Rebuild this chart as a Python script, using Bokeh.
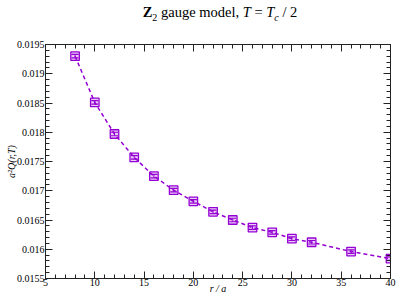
from bokeh.plotting import figure
from bokeh.layouts import column
from bokeh.models import (Range1d, LinearAxis, SingleIntervalTicker, CustomJSTickFormatter,
                          ColumnDataSource, Whisker, TeeHead, Div)
from bokeh.embed import file_html
from bokeh.resources import INLINE

# ---- data ----
r_over_a = [8, 10, 12, 14, 16, 18, 20, 22, 24, 26, 28, 30, 32, 36, 40]
q_values = [0.01930, 0.01851, 0.01797, 0.01757, 0.01725, 0.01701, 0.01682,
            0.01664, 0.01650, 0.01637, 0.01629, 0.01618, 0.01612, 0.01596, 0.01584]
q_errors = [0.00003, 0.00003, 0.00003, 0.00003, 0.00003, 0.00003, 0.00003,
            0.00003, 0.00003, 0.00003, 0.00003, 0.00003, 0.00003, 0.00003, 0.00003]

X0, X1 = 5, 40
Y0, Y1 = 0.0155, 0.0195

VIOLET = "#9400D3"
SERIF = "Liberation Serif"
AXC = "#222222"

TITLE_H = 30
W, H = 397, 270

title = Div(
    text='<b>Z</b><sub style="font-size:10px">2</sub> gauge model, <i>T</i> = '
         '<i>T<sub style="font-size:10px">c</sub></i> / 2',
    width=W, height=TITLE_H, margin=(0, 0, 0, 0),
    styles={"font-family": SERIF, "font-size": "14.5px", "line-height": "1",
            "text-align": "center", "padding-top": "5px", "padding-left": "43px",
            "box-sizing": "border-box", "color": "black"},
)

p = figure(width=W, height=H, output_backend="svg", toolbar_location=None,
           x_range=Range1d(X0, X1), y_range=Range1d(Y0, Y1),
           min_border_left=45, min_border_right=7, min_border_top=14, min_border_bottom=22,
           background_fill_color="white", border_fill_color="white", margin=(0, 0, 0, 0))
p.grid.visible = False
p.outline_line_color = AXC
p.outline_line_width = 1

xt = SingleIntervalTicker(interval=5, num_minor_ticks=5)
yt = SingleIntervalTicker(interval=0.0005, num_minor_ticks=5)
yfmt = CustomJSTickFormatter(code="return String(+tick.toFixed(4));")
blank = CustomJSTickFormatter(code="return '';")

def style_axis(ax):
    ax.major_tick_in = 7
    ax.major_tick_out = 0
    ax.minor_tick_in = 4
    ax.minor_tick_out = 0
    ax.axis_line_color = AXC
    ax.major_tick_line_color = AXC
    ax.minor_tick_line_color = AXC
    ax.major_label_text_font = SERIF
    ax.major_label_text_font_size = "10px"
    ax.major_label_text_color = "black"
    ax.major_label_standoff = 2
    ax.axis_label_text_font = SERIF
    ax.axis_label_text_font_size = "10px"
    ax.axis_label_text_font_style = "italic"
    ax.axis_label_text_color = "black"
    ax.axis_label_standoff = 0

p.xaxis.ticker = xt
p.yaxis.ticker = yt
p.yaxis.formatter = yfmt
style_axis(p.xaxis[0])
style_axis(p.yaxis[0])
p.xaxis.axis_label = "r / a"
p.yaxis.axis_label = "a\u00b2Q(r,T)"
p.yaxis.major_label_standoff = 1
p.yaxis.axis_label_standoff = -3
p.xaxis.major_label_standoff = 0
p.xaxis.axis_label_standoff = -6

top_ax = LinearAxis(ticker=xt, formatter=blank)
right_ax = LinearAxis(ticker=yt, formatter=blank)
style_axis(top_ax)
style_axis(right_ax)
top_ax.major_label_standoff = 0
right_ax.major_label_standoff = 0
p.add_layout(top_ax, "above")
p.add_layout(right_ax, "right")

# ---- data glyphs ----
src = ColumnDataSource(dict(
    r=r_over_a, q=q_values,
    lo=[v - e for v, e in zip(q_values, q_errors)],
    hi=[v + e for v, e in zip(q_values, q_errors)],
))
p.line("r", "q", source=src, line_color=VIOLET, line_width=1.5, line_dash="4 3")
p.scatter("r", "q", source=src, marker="square", size=8.5, line_color=VIOLET,
          line_width=1.3, fill_color=VIOLET, fill_alpha=0.2)
wh = Whisker(source=src, base="r", upper="hi", lower="lo", line_color=VIOLET, line_width=1,
             upper_head=TeeHead(size=7, line_color=VIOLET, line_width=1.2),
             lower_head=TeeHead(size=7, line_color=VIOLET, line_width=1.2))
p.add_layout(wh)

layout = column(title, p, spacing=0, margin=(0, 0, 0, 0))
open("out.html", "w").write(file_html(layout, INLINE))
